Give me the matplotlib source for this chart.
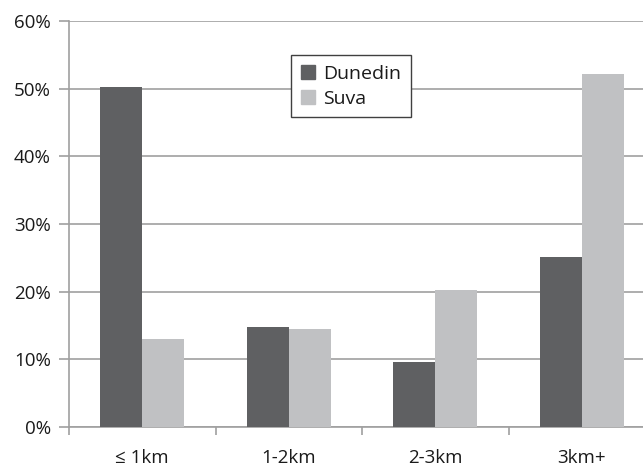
import matplotlib.pyplot as plt
from matplotlib.ticker import FuncFormatter, FixedLocator
from matplotlib.patches import Patch
import numpy as np

categories = ['≤ 1km', '1-2km', '2-3km', '3km+']
dunedin = [50.2, 14.8, 9.6, 25.1]
suva = [13.0, 14.5, 20.2, 52.1]

plt.rcParams['font.family'] = ['Open Sans', 'DejaVu Sans']

fig = plt.figure(figsize=(6.43, 4.66), dpi=100)
# axes runs slightly past the right edge of the figure, as in the reference
ax = fig.add_axes([69/643, 1 - 427/466, 586/643, 406/466])

x = np.arange(len(categories))
w = 0.285
ax.bar(x - w/2, dunedin, w, color='#5f6062', zorder=3, label='Dunedin')
ax.bar(x + w/2, suva, w, color='#c0c1c3', zorder=3, label='Suva')

ax.set_xlim(-0.5, len(categories) - 0.5)
ax.set_ylim(0, 60)
ax.set_yticks(range(0, 61, 10))
ax.yaxis.set_major_formatter(FuncFormatter(lambda v, p: f'{int(v)}%'))
ax.set_xticks(x)
ax.set_xticklabels(categories)
ax.xaxis.set_minor_locator(FixedLocator(np.arange(-0.5, len(categories), 1)))

ax.grid(axis='y', color='#a0a0a0', linewidth=1.2, zorder=0)
for s in ['top', 'right']:
    ax.spines[s].set_visible(False)
for s in ['left', 'bottom']:
    ax.spines[s].set_color('#a0a0a0')
    ax.spines[s].set_linewidth(1.2)

ax.tick_params(axis='y', which='major', length=7, width=1.2, color='#a0a0a0',
               labelsize=13.5, pad=6, labelcolor='#1a1a1a')
ax.tick_params(axis='x', which='major', length=0, labelsize=13.5, pad=16,
               labelcolor='#1a1a1a')
ax.tick_params(axis='x', which='minor', length=6, width=1.2, color='#a0a0a0')

handles = [Patch(color='#5f6062', label='Dunedin'), Patch(color='#c0c1c3', label='Suva')]
leg = ax.legend(handles=handles, loc='upper left', bbox_to_anchor=(291/643, 1 - 55/466),
                bbox_transform=fig.transFigure, borderaxespad=0, fancybox=False, framealpha=1,
                edgecolor='#404040', fontsize=14, handlelength=0.75, handleheight=0.75,
                handletextpad=0.4, labelspacing=0.35, borderpad=0.5)
for t in leg.get_texts():
    t.set_color('#1a1a1a')
leg.get_frame().set_linewidth(1.0)
leg.set_zorder(5)

fig.savefig('out.png', dpi=100)
